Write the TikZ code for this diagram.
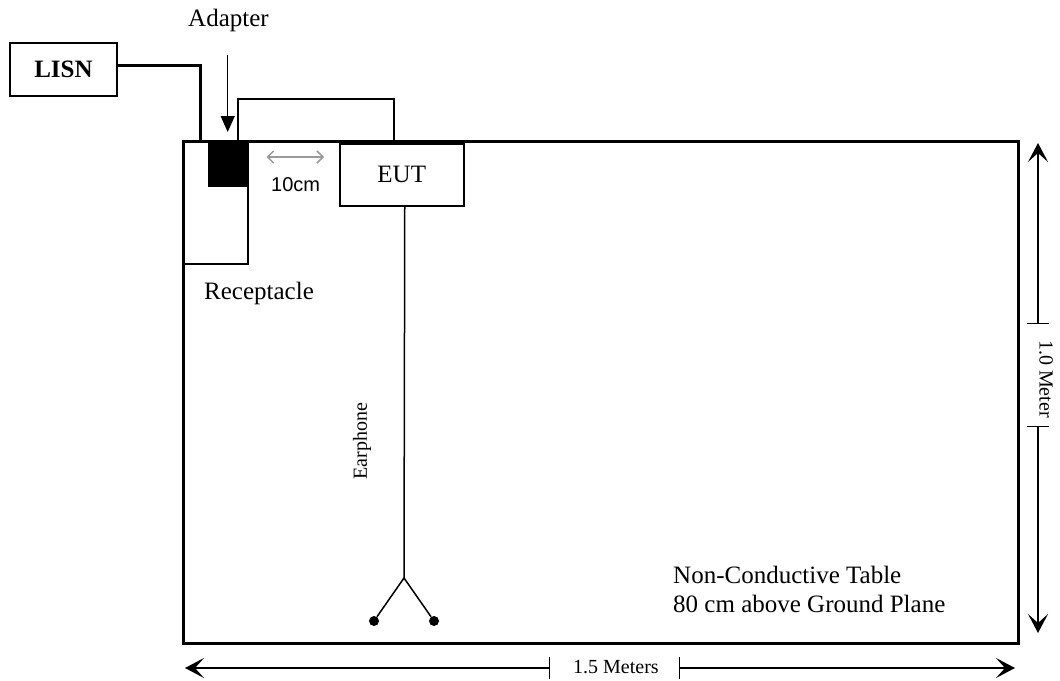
\documentclass[tikz,border=0pt]{standalone}
\usepackage{fontspec}
\setmainfont{Liberation Serif}
\newfontfamily\arialfont{Liberation Sans}
\usepackage{xcolor}
\usetikzlibrary{arrows.meta,calc}
\definecolor{ink}{HTML}{000000}
\definecolor{dimgrey}{HTML}{9A9A9A}
\newcommand{\bigfnt}{\fontsize{25}{29}\selectfont}
\newcommand{\smallfnt}{\fontsize{20}{24}\selectfont}
\tikzset{
  box/.style={draw=ink, line width=1.5pt, inner sep=0pt},
  tablebox/.style={draw=ink, line width=3pt, inner sep=0pt},
  plug/.style={fill=ink, inner sep=0pt},
  thinline/.style={draw=ink, line width=1.5pt},
  cordline/.style={draw=ink, line width=3pt},
  dotn/.style={circle, fill=ink, inner sep=0pt, minimum size=10pt},
  ptr/.style={draw=ink, line width=1.2pt, -{Triangle[length=16pt,width=14pt]}, shorten >=8pt},
  dimtip/.style={draw=ink, line width=1.3pt, {Bar[width=22pt]}-{Stealth[length=19pt,width=20pt,inset=9pt]}},
  gapdim/.style={draw=dimgrey, line width=1.5pt, {Straight Barb[length=6pt,width=12pt]}-{Straight Barb[length=6pt,width=12pt]}},
  lab/.style={text=ink, font=\bigfnt, inner sep=0pt}
}
\begin{document}
\begin{tikzpicture}[x=1pt, y=-1pt]
  \useasboundingbox (0,0) rectangle (1060,680);

  % table and the boxes on it
  \node[tablebox, minimum width=835.5pt, minimum height=502pt, anchor=north west] (tbl) at (181.5,140) {};
  \node[box, minimum width=107pt, minimum height=53pt, font=\bigfnt\bfseries] (lisn) at (63.5,69.5) {LISN};
  \node[box, minimum width=65pt, minimum height=123pt, anchor=north west] (rcpt) at (182,140) {};
  \node[plug, minimum width=39pt, minimum height=47pt, anchor=north west] (adapt) at (208,140) {};
  \node[box, minimum width=124pt, minimum height=62pt, anchor=north west, font=\bigfnt] (eut) at (339,143) {EUT};

  \coordinate (drop) at (200,140);
  \coordinate (loopL) at (238,99);
  \coordinate (loopR) at (394,99);
  \coordinate (jn) at (404,578);

  % cords
  \draw[cordline] ([yshift=4pt]lisn.east) -| (drop);
  \draw[thinline] (adapt.north -| loopL) |- (loopR) -- (loopR |- eut.north);

  % adapter pointer
  \node[lab, anchor=base west] (adlbl) at (188,26) {Adapter};
  \draw[ptr] ($(adapt.north)+(0,-85)$) -- (adapt.north);

  % 10cm gap
  \draw[gapdim] ($(rcpt.north east)+(18,17)$) -- ($(eut.north west)+(-15,14)$);
  \node[lab, anchor=base west, font=\arialfont\smallfnt] (tencm) at (271,191) {10cm};
  \node[lab, anchor=base west] (rlbl) at (204,299) {Receptacle};

  % earphone
  \node[dotn] (ph1) at (374,621) {};
  \node[dotn] (ph2) at (434,621) {};
  \draw[thinline] ([xshift=3pt]eut.south) -- (jn);
  \draw[thinline] (ph1) -- (jn) -- (ph2);
  \node[lab, rotate=90, font=\smallfnt] (earlbl) at (362,441) {Earphone};

  \node[lab, anchor=base west] (tbltxtA) at (673,583) {Non-Conductive Table};
  \node[lab, anchor=base west] (tbltxtB) at ($(tbltxtA.base west)+(0,29)$) {80 cm above Ground Plane};

  % dimensions
  \coordinate (hTop) at (1038,143);
  \coordinate (hTk1) at (1038,324);
  \coordinate (hTk2) at (1038,426);
  \coordinate (hBot) at (1038,633);
  \draw[dimtip] (hTk1) -- (hTop);
  \draw[dimtip] (hTk2) -- (hBot);
  \node[lab, rotate=-90, font=\smallfnt] (hlbl) at (1046,379) {1.0 Meter};

  \coordinate (wLeft) at (185,668);
  \coordinate (wTk1) at (550,668);
  \coordinate (wTk2) at (679,668);
  \coordinate (wRight) at (1015,668);
  \draw[dimtip] (wTk1) -- (wLeft);
  \draw[dimtip] (wTk2) -- (wRight);
  \node[lab, anchor=base west, font=\smallfnt] (wlbl) at (573,673) {1.5 Meters};
\end{tikzpicture}
\end{document}
